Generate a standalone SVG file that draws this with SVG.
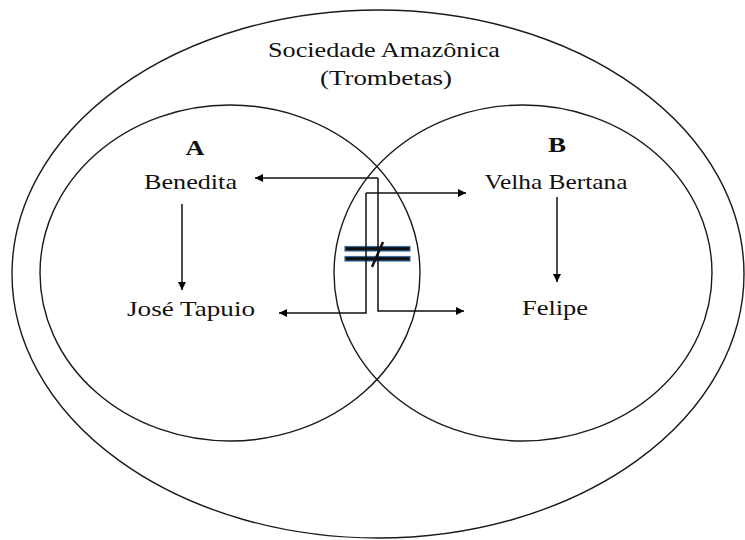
<svg xmlns="http://www.w3.org/2000/svg" width="745" height="540" viewBox="0 0 745 540">
<defs>
<marker id="ah" viewBox="0 0 10 10" refX="10" refY="5" markerWidth="9" markerHeight="8" markerUnits="userSpaceOnUse" orient="auto">
<path d="M0,0 L10,5 L0,10 Z" fill="#000"/>
</marker>
<style>
.ell{fill:none;stroke:#1a1a1a;stroke-width:1.4}
.t{font-family:'Liberation Serif','DejaVu Serif',serif;font-size:22px;font-weight:normal;fill:#111;text-anchor:middle}
.lb{font-family:'Liberation Serif','DejaVu Serif',serif;font-size:21px;font-weight:bold;fill:#111;text-anchor:middle}
.ca{fill:none;stroke:#111;stroke-width:1.5;marker-end:url(#ah)}
</style>
</defs>
<rect width="745" height="540" fill="#fff"/>
<g id="society">
<ellipse class="ell" cx="378" cy="274" rx="366" ry="264"/>
<text class="t" x="384" y="57" textLength="232" lengthAdjust="spacingAndGlyphs">Sociedade Amazônica</text>
<text class="t" x="386" y="85" textLength="132" lengthAdjust="spacingAndGlyphs">(Trombetas)</text>
</g>
<g id="groupA">
<ellipse class="ell" cx="230" cy="273" rx="190" ry="168"/>
<text class="lb" x="195" y="155" textLength="19" lengthAdjust="spacingAndGlyphs">A</text>
</g>
<g id="groupB">
<ellipse class="ell" cx="523" cy="273" rx="189" ry="168"/>
<text class="lb" x="557" y="152" textLength="18" lengthAdjust="spacingAndGlyphs">B</text>
</g>
<g id="benedita"><text class="t" x="190.5" y="189" textLength="93" lengthAdjust="spacingAndGlyphs">Benedita</text></g>
<g id="velha-bertana"><text class="t" x="556" y="189" textLength="143" lengthAdjust="spacingAndGlyphs">Velha Bertana</text></g>
<g id="jose-tapuio"><text class="t" x="191" y="316" textLength="128" lengthAdjust="spacingAndGlyphs">José Tapuio</text></g>
<g id="felipe"><text class="t" x="555" y="315" textLength="66" lengthAdjust="spacingAndGlyphs">Felipe</text></g>
<g id="not-equal">
<rect x="345" y="246.5" width="65" height="4.5" fill="#111" stroke="#3a6ea5" stroke-width="1.2"/>
<rect x="345" y="256.5" width="65" height="4.5" fill="#111" stroke="#3a6ea5" stroke-width="1.2"/>
<line x1="383" y1="242" x2="372" y2="267" stroke="#111" stroke-width="2.5"/>
</g>
<g id="connectors">
<line class="ca" x1="182" y1="204" x2="182" y2="290"/>
<line class="ca" x1="557" y1="197" x2="557" y2="282"/>
<path class="ca" d="M378,178 L255,178"/>
<path class="ca" d="M378,178 L378,311 L464,311"/>
<path class="ca" d="M366,193 L466,193"/>
<path class="ca" d="M366,193 L366,313 L279,313"/>
</g>
</svg>
